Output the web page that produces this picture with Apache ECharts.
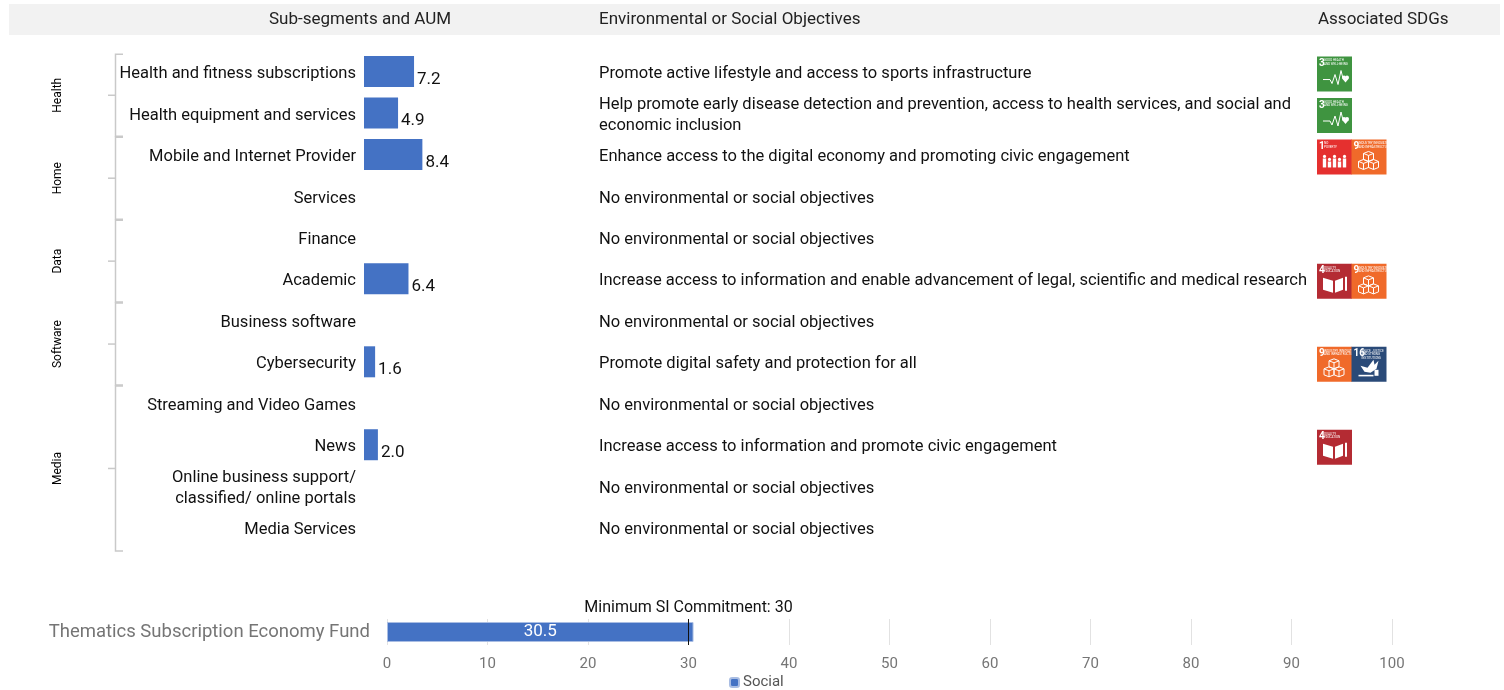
<!DOCTYPE html>
<html>
<head>
<meta charset="utf-8">
<title>Sub-segments and AUM</title>
<script src="https://cdn.jsdelivr.net/npm/echarts@6/dist/echarts.min.js"></script>
<style>
  html, body { margin: 0; padding: 0; background: #fff; }
  #chart { width: 1504px; height: 690px; }
</style>
</head>
<body>
<div id="chart"></div>
<script>
const headers = ['Sub-segments and AUM', 'Environmental or Social Objectives', 'Associated SDGs'];

const subSegments = [
  'Health and fitness subscriptions',
  'Health equipment and services',
  'Mobile and Internet Provider',
  'Services',
  'Finance',
  'Academic',
  'Business software',
  'Cybersecurity',
  'Streaming and Video Games',
  'News',
  'Online business support/\nclassified/ online portals',
  'Media Services'
];
const aum = [7.2, 4.9, 8.4, null, null, 6.4, null, 1.6, null, 2.0, null, null];

const noObjective = 'No environmental or social objectives';
const objectives = [
  'Promote active lifestyle and access to sports infrastructure',
  'Help promote early disease detection and prevention, access to health services, and social and\neconomic inclusion',
  'Enhance access to the digital economy and promoting civic engagement',
  noObjective,
  noObjective,
  'Increase access to information and enable advancement of legal, scientific and medical research',
  noObjective,
  'Promote digital safety and protection for all',
  noObjective,
  'Increase access to information and promote civic engagement',
  noObjective,
  noObjective
];

const rowSdgs = [[3], [3], [1, 9], [], [], [4, 9], [], [9, 16], [], [4], [], []];

const groupNames = ['Health', 'Home', 'Data', 'Software', 'Media'];
const groupFirst = [0, 2, 4, 6, 8];
const groupLast = [1, 3, 5, 7, 11];

const fundNames = ['Thematics Subscription Economy Fund'];
const fundSocial = [30.5];
const minCommitment = 30;

const FONT = '"Liberation Sans Narrow", Roboto, sans-serif';
const BLUE = '#4472c4';

const sdgColor = { 1: '#e5302f', 3: '#3f9440', 4: '#b42b33', 9: '#f06a2a', 16: '#2a4a78' };
const sdgTitle = {
  1: 'NO\nPOVERTY',
  3: 'GOOD HEALTH\nAND WELL-BEING',
  4: 'QUALITY\nEDUCATION',
  9: 'INDUSTRY, INNOVATION\nAND INFRASTRUCTURE',
  16: 'PEACE, JUSTICE\nAND STRONG\nINSTITUTIONS'
};

const white = { fill: '#fff', stroke: null };
const outline = { fill: null, stroke: '#fff', lineWidth: 1 };

function poly(points, style) {
  return { type: style.fill ? 'polygon' : 'polyline', shape: { points }, style };
}

// little white pictogram of each goal, in the icon's own 35x35 box
function sdgGlyph(n) {
  if (n === 3) {
    return [
      poly([[6, 23], [13, 23], [15, 27], [18, 18], [21, 28], [24, 14], [26, 22]], outline),
      { type: 'circle', shape: { cx: 27, cy: 21, r: 2 }, style: white },
      { type: 'circle', shape: { cx: 30, cy: 21, r: 2 }, style: white },
      poly([[25.2, 22], [31.8, 22], [28.5, 26]], white)
    ];
  }
  if (n === 1) {
    return [5, 10, 15, 20, 25].flatMap((x, i) => {
      const h = i % 2 ? 6 : 9;
      return [
        { type: 'circle', shape: { cx: x + 2.5, cy: 29 - h - 3, r: 1.6 }, style: white },
        { type: 'rect', shape: { x: x + 0.8, y: 29 - h - 1, width: 3.4, height: h }, style: white }
      ];
    });
  }
  if (n === 4) {
    return [
      poly([[6, 14], [16, 17], [16, 29], [6, 26]], white),
      poly([[18, 17], [26, 14], [26, 26], [18, 29]], white),
      { type: 'rect', shape: { x: 28, y: 13, width: 2, height: 14 }, style: white }
    ];
  }
  if (n === 9) {
    const cube = (x, y) => [
      poly([[x, y + 2], [x + 5, y], [x + 10, y + 2], [x + 10, y + 8], [x + 5, y + 10], [x, y + 8], [x, y + 2]], outline),
      poly([[x, y + 2], [x + 5, y + 4], [x + 10, y + 2]], outline),
      poly([[x + 5, y + 4], [x + 5, y + 10]], outline)
    ];
    return [...cube(12, 12), ...cube(7, 20), ...cube(17, 20)];
  }
  return [
    poly([[9, 19], [16, 21], [22, 13], [23, 18], [27, 14], [25, 22], [19, 26], [13, 25]], white),
    { type: 'rect', shape: { x: 7, y: 28, width: 15, height: 1.6 }, style: white },
    { type: 'rect', shape: { x: 23, y: 23, width: 4, height: 6 }, style: white }
  ];
}

function renderSdg(params, api) {
  const n = api.value(2);
  const c = api.coord([api.value(0), api.value(1)]);
  const slot = api.size([1, 0])[0];
  const number = String(n);
  return {
    type: 'group',
    x: c[0],
    y: c[1] - 17.5,
    children: [
      { type: 'rect', shape: { x: 0, y: 0, width: slot + 0.5, height: 35 }, style: { fill: sdgColor[n] } },
      { type: 'text', x: 2, y: 2, style: { text: number, fill: '#fff', font: 'bold 10px ' + FONT } },
      {
        type: 'text', x: number.length > 1 ? 10 : 7, y: 2.5,
        style: { text: sdgTitle[n], fill: '#fff', font: '3px ' + FONT, lineHeight: 3.4 }
      },
      ...sdgGlyph(n)
    ]
  };
}

function renderBracket(params, api) {
  const first = api.value(1);
  const last = api.value(2);
  const band = api.size([0, 1])[1];
  const x = api.coord([0.5, first])[0];
  const left = api.coord([0, first])[0];
  const right = api.coord([1, first])[0];
  const top = api.coord([0, first])[1] - band / 2 + 1;
  const bottom = api.coord([0, last])[1] + band / 2;
  const mid = (top + bottom) / 2;
  const line = { fill: null, stroke: '#c9c9c9', lineWidth: 1.5 };
  return {
    type: 'group',
    children: [
      { type: 'polyline', shape: { points: [[right, top], [x, top], [x, bottom], [right, bottom]] }, style: line },
      { type: 'line', shape: { x1: left, y1: mid, x2: x, y2: mid }, style: line },
      {
        type: 'text', x: left - 50, y: mid, rotation: Math.PI / 2,
        style: { text: groupNames[params.dataIndex], fill: '#000', font: '12px ' + FONT, align: 'center', verticalAlign: 'middle' }
      }
    ]
  };
}

const rowBox = { top: 53.3, height: 497.6 };

const sdgData = rowSdgs.flatMap((list, row) => list.map((n, slot) => [slot, row, n]));
const bracketData = groupNames.map((name, i) => [0, groupFirst[i], groupLast[i]]);

const hiddenAxis = { show: false, axisLine: { show: false }, axisTick: { show: false }, splitLine: { show: false } };

const option = {
  animation: false,
  textStyle: { fontFamily: FONT },
  graphic: [
    { type: 'rect', shape: { x: 9, y: 4, width: 1491, height: 31 }, style: { fill: '#f2f2f2' }, z: 0 },
    { type: 'text', x: 269, y: 20, style: { text: headers[0], fill: '#222', font: '17px ' + FONT, verticalAlign: 'middle' } },
    { type: 'text', x: 599, y: 20, style: { text: headers[1], fill: '#222', font: '17px ' + FONT, verticalAlign: 'middle' } },
    { type: 'text', x: 1318, y: 20, style: { text: headers[2], fill: '#222', font: '17px ' + FONT, verticalAlign: 'middle' } }
  ],
  legend: {
    data: ['Social'],
    left: 729,
    top: 675,
    padding: 0,
    itemWidth: 9,
    itemHeight: 9,
    itemGap: 4,
    textStyle: { color: '#555', fontSize: 15, padding: [0, 0, 0, -1] }
  },
  grid: [
    { left: 364, top: 50.8, width: 139, height: 497.6 },
    { left: 364, top: rowBox.top, width: 227, height: rowBox.height },
    { left: 1317, top: rowBox.top, width: 69, height: rowBox.height },
    { left: 108, top: rowBox.top, width: 15, height: rowBox.height },
    { left: 387, top: 619, width: 1005, height: 26 }
  ],
  xAxis: [
    { ...hiddenAxis, type: 'value', gridIndex: 0, min: 0, max: 20 },
    { ...hiddenAxis, type: 'value', gridIndex: 1, min: 0, max: 1 },
    { ...hiddenAxis, type: 'value', gridIndex: 2, min: 0, max: 2 },
    { ...hiddenAxis, type: 'value', gridIndex: 3, min: 0, max: 1 },
    {
      type: 'value', gridIndex: 4, min: 0, max: 100, interval: 10,
      axisLine: { show: false },
      axisTick: { show: false },
      splitLine: { show: true, lineStyle: { color: '#e2e2e2', width: 1 } },
      axisLabel: { color: '#757575', fontSize: 15, margin: 12 }
    }
  ],
  yAxis: [
    { ...hiddenAxis, type: 'category', gridIndex: 0, inverse: true, data: subSegments },
    {
      type: 'category', gridIndex: 1, inverse: true, data: subSegments, position: 'left',
      axisLine: { show: false }, axisTick: { show: false },
      axisLabel: { interval: 0, margin: 8, align: 'right', color: '#111', fontSize: 16.5, lineHeight: 21 }
    },
    {
      type: 'category', gridIndex: 1, inverse: true, data: objectives, position: 'right',
      axisLine: { show: false }, axisTick: { show: false },
      axisLabel: { interval: 0, margin: 8, align: 'left', color: '#111', fontSize: 16.5, lineHeight: 21 }
    },
    { ...hiddenAxis, type: 'category', gridIndex: 2, inverse: true, data: objectives },
    { ...hiddenAxis, type: 'category', gridIndex: 3, inverse: true, data: subSegments },
    {
      type: 'category', gridIndex: 4, data: fundNames,
      axisLine: { show: false }, axisTick: { show: false },
      axisLabel: { margin: 17, color: '#757575', fontSize: 18.5 }
    }
  ],
  series: [
    {
      name: 'AUM', type: 'bar', xAxisIndex: 0, yAxisIndex: 0, data: aum, barWidth: 31,
      itemStyle: { color: BLUE },
      label: {
        show: true, position: 'right', distance: 3, offset: [0, 8],
        color: '#111', fontSize: 17, formatter: p => p.value.toFixed(1)
      }
    },
    {
      type: 'custom', name: 'SDGs', xAxisIndex: 2, yAxisIndex: 3, clip: false,
      data: sdgData, encode: { x: 0, y: 1 }, renderItem: renderSdg
    },
    {
      type: 'custom', name: 'Groups', xAxisIndex: 3, yAxisIndex: 4, clip: false,
      data: bracketData, encode: { x: 0, y: 1 }, renderItem: renderBracket
    },
    {
      name: 'Social', type: 'bar', xAxisIndex: 4, yAxisIndex: 5, data: fundSocial, barWidth: 20,
      itemStyle: { color: BLUE, borderColor: '#a9bde3', borderWidth: 1 },
      label: { show: true, position: 'inside', color: '#fff', fontSize: 17 },
      markLine: {
        silent: true,
        symbol: 'none',
        data: [{ xAxis: minCommitment }],
        lineStyle: { color: '#111', width: 1, type: 'solid' },
        label: {
          show: true, position: 'end', distance: 3, color: '#111', fontSize: 16,
          formatter: 'Minimum SI Commitment: ' + minCommitment
        }
      }
    }
  ]
};

const chart = echarts.init(document.getElementById('chart'), null, { renderer: 'canvas' });
chart.setOption(option);
window.addEventListener('resize', () => chart.resize());
</script>
</body>
</html>
